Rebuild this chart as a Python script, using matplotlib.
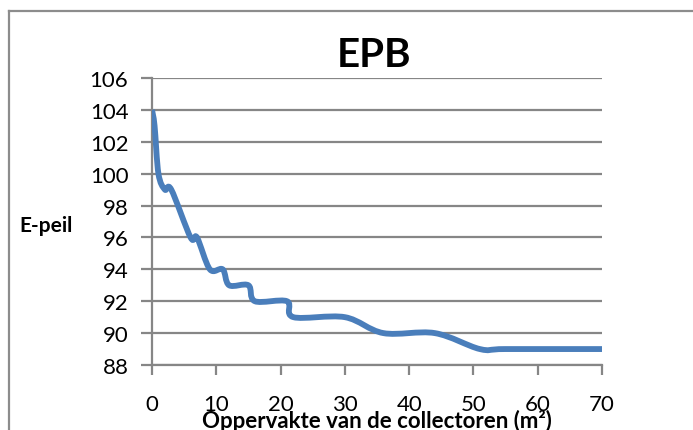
import numpy as np
import matplotlib
matplotlib.use("Agg")
import matplotlib.pyplot as plt
from matplotlib.path import Path
from matplotlib.patches import PathPatch
from matplotlib.lines import Line2D

# collector area (m2) vs E-peil
oppervlakte = [0, 0.4, 1, 2, 3, 6, 7, 9, 11, 12, 15, 16, 21, 22, 30, 36, 44, 51, 55, 70]
epeil = [104, 103, 100, 99, 99, 96, 96, 94, 94, 93, 93, 92, 92, 91, 91, 90, 90, 89, 89, 89]
xticks = [0, 10, 20, 30, 40, 50, 60, 70]
yticks = [88, 90, 92, 94, 96, 98, 100, 102, 104, 106]

plt.rcParams['font.family'] = ['Lato', 'DejaVu Sans']
grijs = '#868686'
blauw = '#4a7ebb'

fig = plt.figure(figsize=(6.93, 4.31), dpi=100)
ax = fig.add_axes([152/693, 1-366/431, 450/693, 287/431])

# smooth line like excel: bezier through the points (catmull-rom style handles)
pts = np.column_stack([oppervlakte, epeil]).astype(float)
verts = [pts[0]]
codes = [Path.MOVETO]
n = len(pts)
for i in range(n-1):
	p0 = pts[max(i-1, 0)]
	p1 = pts[i]
	p2 = pts[i+1]
	p3 = pts[min(i+2, n-1)]
	c1 = p1 + (p2 - p0)/6.0
	c2 = p2 - (p3 - p1)/6.0
	verts += [c1, c2, p2]
	codes += [Path.CURVE4]*3
ax.add_patch(PathPatch(Path(verts, codes), fill=False, edgecolor=blauw, lw=4.2,
	capstyle='butt', joinstyle='round', zorder=3))

ax.set_xlim(0, 70)
ax.set_ylim(88, 106)
ax.set_xticks(xticks)
ax.set_yticks(yticks)
ax.grid(axis='y', color=grijs, lw=1.6, zorder=0)
ax.set_axisbelow(True)
for s in ['top', 'right']:
	ax.spines[s].set_visible(False)
for s in ['left', 'bottom']:
	ax.spines[s].set_color(grijs)
	ax.spines[s].set_linewidth(1.6)
ax.tick_params(axis='x', direction='out', length=7, width=1.6, color=grijs, labelsize=16, pad=14)
ax.tick_params(axis='y', direction='out', length=8, width=1.6, color=grijs, labelsize=16, pad=9)

fig.text(374/693, 1-67/431, 'EPB', fontsize=29, fontweight='bold', ha='center', va='baseline')
fig.text(19/693, 1-232/431, 'E-peil', fontsize=15, fontweight='bold', ha='left', va='baseline')
fig.text(377/693, 1-428/431, 'Oppervakte van de collectoren (m²)', fontsize=16,
	fontweight='bold', ha='center', va='baseline')

# kader rond de grafiek
fig.add_artist(Line2D([9/693, 1], [1-12/431, 1-12/431], transform=fig.transFigure, color='#8c8c8c', lw=1.6))
fig.add_artist(Line2D([9/693, 9/693], [0, 1-12/431], transform=fig.transFigure, color='#8c8c8c', lw=1.6))

fig.savefig('out.png', dpi=100)
